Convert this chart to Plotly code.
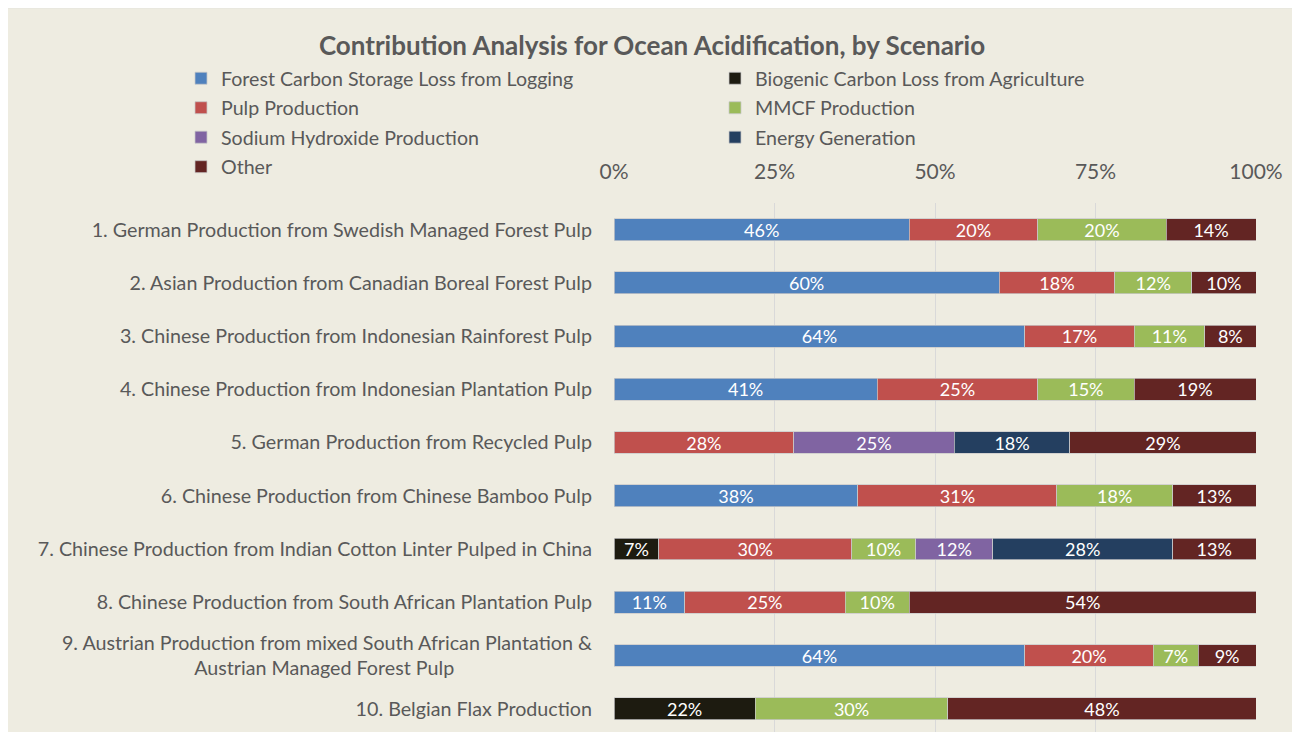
import plotly.graph_objects as go

scenarios = [
    "1. German Production from Swedish Managed Forest Pulp",
    "2. Asian Production from Canadian Boreal Forest Pulp",
    "3. Chinese Production from Indonesian Rainforest Pulp",
    "4. Chinese Production from Indonesian Plantation Pulp",
    "5. German Production from Recycled Pulp",
    "6. Chinese Production from Chinese Bamboo Pulp",
    "7. Chinese Production from Indian Cotton Linter Pulped in China",
    "8. Chinese Production from South African Plantation Pulp",
    "9. Austrian Production from mixed South African Plantation & Austrian Managed Forest Pulp",
    "10. Belgian Flax Production",
]

series_names = [
    "Forest Carbon Storage Loss from Logging",
    "Biogenic Carbon Loss from Agriculture",
    "Pulp Production",
    "MMCF Production",
    "Sodium Hydroxide Production",
    "Energy Generation",
    "Other",
]

forest = [46, 60, 64, 41, None, 38, None, 11, 64, None]
biogenic = [None, None, None, None, None, None, 7, None, None, 22]
pulp = [20, 18, 17, 25, 28, 31, 30, 25, 20, None]
mmcf = [20, 12, 11, 15, None, 18, 10, 10, 7, 30]
sodium = [None, None, None, None, 25, None, 12, None, None, None]
energy = [None, None, None, None, 18, None, 28, None, None, None]
other = [14, 10, 8, 19, 29, 13, 13, 54, 9, 48]

x_ticks = [0, 25, 50, 75, 100]

series_values = [forest, biogenic, pulp, mmcf, sodium, energy, other]
colors = ["#4F81BD", "#1D1B10", "#C0504D", "#9BBB59", "#8064A2", "#243F60", "#632523"]
# legend column for each series (Excel lays the legend out row-wise in two columns)
legend_cols = ["legend", "legend2", "legend", "legend2", "legend", "legend2", "legend"]

FONT = "Lato"
GREY = "#595959"

fig = go.Figure()
for i, (name, vals, col, lg) in enumerate(zip(series_names, series_values, colors, legend_cols)):
    fig.add_trace(go.Bar(
        y=scenarios, x=vals, name=name, orientation="h",
        legend=lg, legendgroup=f"g{i}",
        marker=dict(color=col, line=dict(color="#C8C8C8", width=0.75)),
        width=0.41,
        texttemplate="%{x:.0f}%", textposition="inside",
        insidetextanchor="middle", constraintext="none",
        textfont=dict(family=FONT, size=18, color="white"),
        hoverinfo="name+x",
    ))

# tick labels: wrap the long 9th label, keep second line centred under the first
ticktext = []
for s in scenarios:
    if s.startswith("9."):
        first, second = s.split("& ")
        ticktext.append(first + "&<br>" + second + "\u2002" * 14)
    else:
        ticktext.append(s)

# figure-pixel geometry (page is offset by the 8px body margin)
W, H = 1284, 732
L, R, T, B = 606, 1248, 195.4, 732
ROW = 53.2
y_bottom = -0.5 + (B - T) / ROW

def px_x(p):
    return (p - L) / (R - L)
def px_y(p):
    return (B - p) / (B - T)

fig.add_shape(type="rect", xref="paper", yref="paper",
              x0=px_x(-2), x1=px_x(1286), y0=px_y(745), y1=px_y(0),
              fillcolor="#EEECE1", line=dict(color="#D9D9D9", width=1.5),
              layer="below")

legend_common = dict(orientation="v", xref="container", yref="container",
                     xanchor="left", yanchor="top", traceorder="grouped",
                     tracegroupgap=1,
                     font=dict(family=FONT, size=19.6, color=GREY),
                     bgcolor="rgba(0,0,0,0)")

fig.update_layout(
    width=W, height=H,
    barmode="stack",
    paper_bgcolor="white",
    plot_bgcolor="rgba(0,0,0,0)",
    margin=dict(l=L, r=W - R, t=T, b=H - B, autoexpand=False),
    font=dict(family=FONT, color=GREY),
    title=dict(text="<b>Contribution Analysis for Ocean Acidification, by Scenario</b>",
               x=644 / W, xref="container", xanchor="center",
               y=1 - 38 / H, yref="container", yanchor="middle",
               font=dict(family=FONT, size=26, color=GREY)),
    legend=dict(x=173 / W, y=1 - 51 / H, **legend_common),
    legend2=dict(x=707 / W, y=1 - 51 / H, **legend_common),
    uniformtext=dict(minsize=18, mode="show"),
    showlegend=True,
)

fig.update_xaxes(side="top", range=[0, 100], tickvals=x_ticks,
                 ticktext=[f"{v}%" for v in x_ticks],
                 showgrid=True, gridcolor="#D9D9D9", gridwidth=1,
                 zeroline=False, showline=False, ticks="",
                 ticklabelstandoff=19,
                 tickfont=dict(family=FONT, size=21, color=GREY),
                 fixedrange=True)
fig.update_yaxes(type="category", range=[y_bottom, -0.5], autorange=False,
                 tickvals=scenarios, ticktext=ticktext,
                 showgrid=False, zeroline=False, showline=False, ticks="",
                 ticklabelstandoff=21,
                 tickfont=dict(family=FONT, size=19.7, color=GREY),
                 fixedrange=True)

fig.write_html("out.html")
